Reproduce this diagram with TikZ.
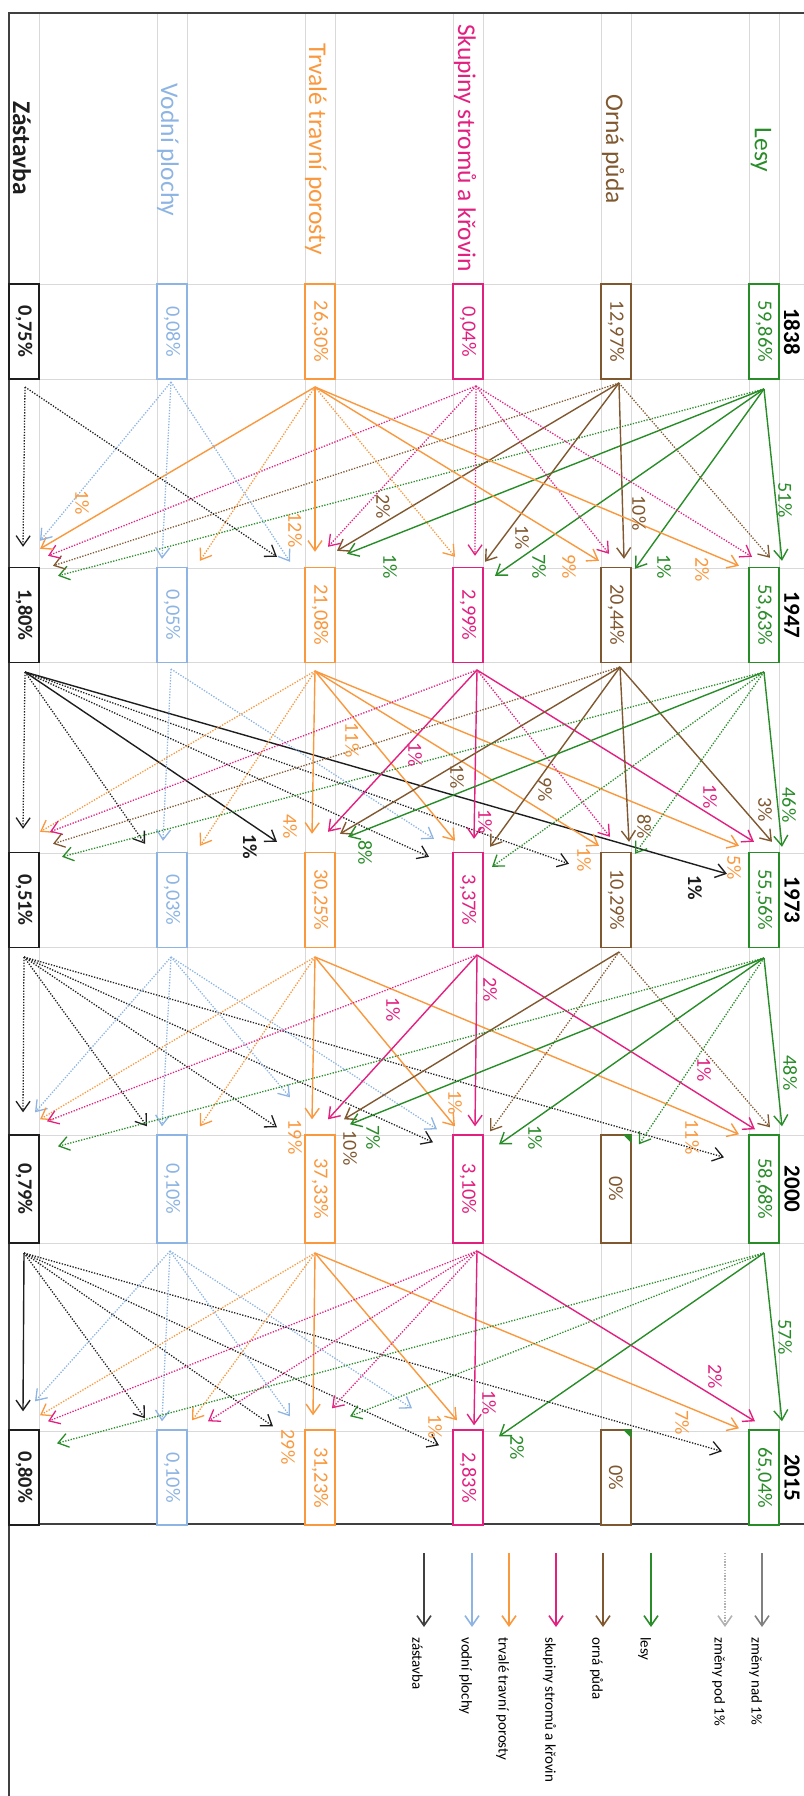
\documentclass[tikz,border=0pt]{standalone}
\usepackage{fontspec}
\setmainfont{Carlito}
\usepackage{graphicx}
\usetikzlibrary{arrows.meta}

\definecolor{lesc}{RGB}{40,140,40}
\definecolor{ornc}{RGB}{128,88,48}
\definecolor{skuc}{RGB}{226,32,128}
\definecolor{trvc}{RGB}{250,152,62}
\definecolor{vodc}{RGB}{141,180,226}
\definecolor{zasc}{RGB}{30,30,30}
\definecolor{gridc}{RGB}{217,217,217}
\definecolor{framec}{RGB}{64,64,64}

\begin{document}
\begin{tikzpicture}[x = 0.5pt, y = -0.5pt, > = {Straight Barb[length = 5pt, width = 7pt]},
	box/.style = {rectangle, draw, fill = white, line width = 0.7pt, minimum width = 15pt, minimum height = 47.5pt, inner sep = 0pt, font = \fontsize{10.2}{12}\selectfont},
	les/.style = {box, draw = lesc, text = lesc},
	orn/.style = {box, draw = ornc, text = ornc},
	sku/.style = {box, draw = skuc, text = skuc},
	trv/.style = {box, draw = trvc, text = trvc},
	vod/.style = {box, draw = vodc, text = vodc},
	zas/.style = {box, draw = zasc, text = zasc, font = \bfseries\fontsize{10.2}{12}\selectfont},
	head/.style = {rotate = -90, inner sep = 0pt, font = \fontsize{12.75}{15}\selectfont},
	year/.style = {rotate = -90, inner sep = 0pt, font = \bfseries\fontsize{11.5}{14}\selectfont},
	lbl/.style = {rotate = -90, inner sep = 0pt, font = \fontsize{10}{12}\selectfont},
	lblb/.style = {lbl, font = \bfseries\fontsize{10}{12}\selectfont},
	legtext/.style = {rotate = -90, anchor = west, inner sep = 0pt, font = \fontsize{7.5}{9}\selectfont},
	nad/.style = {->, line width = 0.7pt},
	pod/.style = {->, line width = 0.65pt, dash pattern = on 0.65pt off 0.75pt},
	gridline/.style = {gridc, line width = 0.5pt}]

	\useasboundingbox (0, 0) rectangle (804, 1796);

	% Table grid and frame

	\draw[gridline] (39, 13) -- (39, 1524) (157, 13) -- (157, 1524) (187, 13) -- (187, 1524)
		(305, 13) -- (305, 1524) (335, 13) -- (335, 1524) (453, 13) -- (453, 1524)
		(483, 13) -- (483, 1524) (601, 13) -- (601, 1524) (631, 13) -- (631, 1524)
		(749, 13) -- (749, 1524) (779, 13) -- (779, 1524);
	\draw[gridline] (9, 284) -- (804, 284) (9, 379) -- (804, 379) (9, 568) -- (804, 568)
		(9, 662) -- (804, 662) (9, 853) -- (804, 853) (9, 947) -- (804, 947)
		(9, 1135) -- (804, 1135) (9, 1243) -- (804, 1243) (9, 1431) -- (804, 1431);
	\draw[framec, line width = 1pt] (804, 13) -- (9, 13) -- (9, 1796);
	\draw[framec, line width = 1pt] (9, 1524) -- (804, 1524);

	% Category headings

	\node[head, zasc, font = \bfseries\fontsize{12.75}{15}\selectfont] (hzas) at (22, 148) {Zástavba};
	\node[head, vodc] (hvod) at (168, 150) {Vodní plochy};
	\node[head, trvc] (htrv) at (316, 149) {Trvalé travní porosty};
	\node[head, skuc] (hsku) at (465, 148) {Skupiny stromů a křovin};
	\node[head, ornc] (horn) at (613, 149) {Orná půda};
	\node[head, lesc] (hles) at (761, 150) {Lesy};

	% Years

	\node[year] (y38) at (792, 331.5) {1838};
	\node[year] (y47) at (792, 615) {1947};
	\node[year] (y73) at (792, 900) {1973};
	\node[year] (y00) at (792, 1189) {2000};
	\node[year] (y15) at (792, 1477.5) {2015};

	% Arrow starts

	\coordinate (zas38o) at (25, 387);
	\coordinate (vod38o) at (171, 382);
	\coordinate (trv38o) at (315, 387);
	\coordinate (sku38o) at (476, 386);
	\coordinate (orn38o) at (619, 383);
	\coordinate (les38o) at (764, 389);

	\coordinate (zas47o) at (25, 672);
	\coordinate (vod47o) at (171, 669);
	\coordinate (trv47o) at (315, 671);
	\coordinate (sku47o) at (477, 670);
	\coordinate (orn47o) at (620, 667);
	\coordinate (les47o) at (764, 672);

	\coordinate (zas73o) at (24, 957);
	\coordinate (vod73o) at (171, 957);
	\coordinate (trv73o) at (315, 957);
	\coordinate (sku73o) at (477, 955);
	\coordinate (orn73o) at (619, 952);
	\coordinate (les73o) at (764, 958);

	\coordinate (zas00o) at (24, 1253);
	\coordinate (vod00o) at (170, 1251);
	\coordinate (trv00o) at (315, 1253);
	\coordinate (sku00o) at (477, 1251);
	\coordinate (les00o) at (764, 1253);

	% Boxes

	\node[zas] (zas38) at (24, 331.5) {\rotatebox{-90}{0,75\%}};
	\node[vod] (vod38) at (172, 331.5) {\rotatebox{-90}{0,08\%}};
	\node[trv] (trv38) at (320, 331.5) {\rotatebox{-90}{26,30\%}};
	\node[sku] (sku38) at (468, 331.5) {\rotatebox{-90}{0,04\%}};
	\node[orn] (orn38) at (616, 331.5) {\rotatebox{-90}{12,97\%}};
	\node[les] (les38) at (764, 331.5) {\rotatebox{-90}{59,86\%}};

	\node[zas] (zas47) at (24, 615) {\rotatebox{-90}{1,80\%}};
	\node[vod] (vod47) at (172, 615) {\rotatebox{-90}{0,05\%}};
	\node[trv] (trv47) at (320, 615) {\rotatebox{-90}{21,08\%}};
	\node[sku] (sku47) at (468, 615) {\rotatebox{-90}{2,99\%}};
	\node[orn] (orn47) at (616, 615) {\rotatebox{-90}{20,44\%}};
	\node[les] (les47) at (764, 615) {\rotatebox{-90}{53,63\%}};

	\node[zas] (zas73) at (24, 900) {\rotatebox{-90}{0,51\%}};
	\node[vod] (vod73) at (172, 900) {\rotatebox{-90}{0,03\%}};
	\node[trv] (trv73) at (320, 900) {\rotatebox{-90}{30,25\%}};
	\node[sku] (sku73) at (468, 900) {\rotatebox{-90}{3,37\%}};
	\node[orn] (orn73) at (616, 900) {\rotatebox{-90}{10,29\%}};
	\node[les] (les73) at (764, 900) {\rotatebox{-90}{55,56\%}};

	\node[zas, minimum height = 54pt] (zas00) at (24, 1189) {\rotatebox{-90}{0,79\%}};
	\node[vod, minimum height = 54pt] (vod00) at (172, 1189) {\rotatebox{-90}{0,10\%}};
	\node[trv, minimum height = 54pt] (trv00) at (320, 1189) {\rotatebox{-90}{37,33\%}};
	\node[sku, minimum height = 54pt] (sku00) at (468, 1189) {\rotatebox{-90}{3,10\%}};
	\node[orn, minimum height = 54pt] (orn00) at (616, 1189) {\rotatebox{-90}{0\%}};
	\node[les, minimum height = 54pt] (les00) at (764, 1189) {\rotatebox{-90}{58,68\%}};

	\node[zas] (zas15) at (24, 1477.5) {\rotatebox{-90}{0,80\%}};
	\node[vod] (vod15) at (172, 1477.5) {\rotatebox{-90}{0,10\%}};
	\node[trv] (trv15) at (320, 1477.5) {\rotatebox{-90}{31,23\%}};
	\node[sku] (sku15) at (468, 1477.5) {\rotatebox{-90}{2,83\%}};
	\node[orn] (orn15) at (616, 1477.5) {\rotatebox{-90}{0\%}};
	\node[les] (les15) at (764, 1477.5) {\rotatebox{-90}{65,04\%}};

	\fill[lesc] (orn00.north east) -- ++(-9, 0) -- ++(9, 9) -- cycle;
	\fill[lesc] (orn15.north east) -- ++(-9, 0) -- ++(9, 9) -- cycle;

	% 1838 -> 1947

	\draw[nad, lesc] (les38o) -- ([shift = {(18, -6)}]les47.north);
	\draw[nad, lesc] (les38o) -- ([shift = {(19, 2)}]orn47.north);
	\draw[nad, lesc] (les38o) -- ([shift = {(27, 9)}]sku47.north);
	\draw[nad, lesc] (les38o) -- ([shift = {(27, -13)}]trv47.north);
	\draw[pod, lesc] (les38o) -- ([shift = {(34, 9)}]zas47.north);

	\draw[pod, ornc] (orn38o) -- ([shift = {(6, -9)}]les47.north);
	\draw[nad, ornc] (orn38o) -- ([shift = {(8, -8)}]orn47.north);
	\draw[nad, ornc] (orn38o) -- ([shift = {(17, -5)}]sku47.north);
	\draw[nad, ornc] (orn38o) -- ([shift = {(17, -16)}]trv47.north);
	\draw[pod, ornc] (orn38o) -- ([shift = {(29, -1)}]zas47.north);

	\draw[pod, skuc] (sku38o) -- ([shift = {(-12, -10)}]les47.north);
	\draw[pod, skuc] (sku38o) -- ([shift = {(-7, -13)}]orn47.north);
	\draw[pod, skuc] (sku38o) -- ([shift = {(7, -11)}]sku47.north);
	\draw[pod, skuc] (sku38o) -- ([shift = {(8, -20)}]trv47.north);
	\draw[pod, skuc] (sku38o) -- ([shift = {(24, -11)}]zas47.north);

	\draw[nad, trvc] (trv38o) -- ([shift = {(-25, -1)}]les47.north);
	\draw[nad, trvc] (trv38o) -- ([shift = {(-17, -6)}]orn47.north);
	\draw[pod, trvc] (trv38o) -- ([shift = {(-13, -10)}]sku47.north);
	\draw[nad, trvc] (trv38o) -- ([shift = {(-5, -15)}]trv47.north);
	\draw[pod, trvc] (trv38o) -- ([shift = {(28, -6)}]vod47.north);
	\draw[nad, trvc] (trv38o) -- ([shift = {(16, -18)}]zas47.north);

	\draw[pod, vodc] (vod38o) -- ([shift = {(-30, -5)}]trv47.north);
	\draw[pod, vodc] (vod38o) -- ([shift = {(-10, -8)}]vod47.north);
	\draw[pod, vodc] (vod38o) -- ([shift = {(16, -26)}]zas47.north);

	\draw[pod, zasc] (zas38o) -- ([shift = {(-43, -10)}]trv47.north);
	\draw[pod, zasc] (zas38o) -- ([shift = {(-1, -20)}]zas47.north);

	% 1947 -> 1973

	\draw[pod, zasc] (zas47o) -- ([shift = {(-1, -23)}]zas73.north);
	\draw[pod, zasc] (zas47o) -- ([shift = {(-27, -8)}]vod73.north);
	\draw[nad, zasc] (zas47o) -- ([shift = {(-43, -10)}]trv73.north);
	\draw[pod, zasc] (zas47o) -- ([shift = {(-39, 5)}]sku73.north);
	\draw[pod, zasc] (zas47o) -- ([shift = {(-47, 12)}]orn73.north);
	\draw[nad, zasc] (zas47o) -- ([shift = {(-37, 22)}]les73.north);

	\draw[pod, vodc] (vod47o) -- ([shift = {(-9, -11)}]vod73.north);
	\draw[pod, vodc] (vod47o) -- ([shift = {(-34, -13)}]sku73.north);

	\draw[pod, trvc] (trv47o) -- ([shift = {(16, -20)}]zas73.north);
	\draw[pod, trvc] (trv47o) -- ([shift = {(28, -6)}]vod73.north);
	\draw[nad, trvc] (trv47o) -- ([shift = {(-8, -18)}]trv73.north);
	\draw[nad, trvc] (trv47o) -- ([shift = {(-13, -11)}]sku73.north);
	\draw[nad, trvc] (trv47o) -- ([shift = {(-17, -6)}]orn73.north);
	\draw[nad, trvc] (trv47o) -- ([shift = {(-25, -6)}]les73.north);

	\draw[pod, skuc] (sku47o) -- ([shift = {(26, -20)}]zas73.north);
	\draw[nad, skuc] (sku47o) -- ([shift = {(8, -20)}]trv73.north);
	\draw[nad, skuc] (sku47o) -- ([shift = {(6, -13)}]sku73.north);
	\draw[pod, skuc] (sku47o) -- ([shift = {(-6, -15)}]orn73.north);
	\draw[nad, skuc] (sku47o) -- ([shift = {(-10, -10)}]les73.north);

	\draw[pod, ornc] (orn47o) -- ([shift = {(29, -8)}]zas73.north);
	\draw[nad, ornc] (orn47o) -- ([shift = {(20, -18)}]trv73.north);
	\draw[nad, ornc] (orn47o) -- ([shift = {(22, -5)}]sku73.north);
	\draw[nad, ornc] (orn47o) -- ([shift = {(13, -10)}]orn73.north);
	\draw[nad, ornc] (orn47o) -- ([shift = {(8, -10)}]les73.north);

	\draw[pod, lesc] (les47o) -- ([shift = {(38, 5)}]zas73.north);
	\draw[nad, lesc] (les47o) -- ([shift = {(28, -15)}]trv73.north);
	\draw[pod, lesc] (les47o) -- ([shift = {(24, 15)}]sku73.north);
	\draw[pod, lesc] (les47o) -- ([shift = {(19, 2)}]orn73.north);
	\draw[nad, lesc] (les47o) -- ([shift = {(18, -5)}]les73.north);

	% 1973 -> 2000

	\draw[pod, zasc] (zas73o) -- ([shift = {(-1, -22)}]zas00.north);
	\draw[pod, zasc] (zas73o) -- ([shift = {(-25, -8)}]vod00.north);
	\draw[pod, zasc] (zas73o) -- ([shift = {(-43, -7)}]trv00.north);
	\draw[pod, zasc] (zas73o) -- ([shift = {(-35, 8)}]sku00.north);
	\draw[pod, zasc] (zas73o) -- ([shift = {(-40, 23)}]les00.north);

	\draw[pod, vodc] (vod73o) -- ([shift = {(11, -22)}]zas00.north);
	\draw[pod, vodc] (vod73o) -- ([shift = {(-10, -8)}]vod00.north);
	\draw[pod, vodc] (vod73o) -- ([shift = {(-30, -37)}]trv00.north);
	\draw[pod, vodc] (vod73o) -- ([shift = {(-31, -5)}]sku00.north);

	\draw[pod, trvc] (trv73o) -- ([shift = {(16, -15)}]zas00.north);
	\draw[pod, trvc] (trv73o) -- ([shift = {(28, -8)}]vod00.north);
	\draw[nad, trvc] (trv73o) -- ([shift = {(-8, -15)}]trv00.north);
	\draw[nad, trvc] (trv73o) -- ([shift = {(-13, -8)}]sku00.north);
	\draw[nad, trvc] (trv73o) -- ([shift = {(-25, 0)}]les00.north);

	\draw[pod, skuc] (sku73o) -- ([shift = {(23, -13)}]zas00.north);
	\draw[nad, skuc] (sku73o) -- ([shift = {(8, -15)}]trv00.north);
	\draw[nad, skuc] (sku73o) -- ([shift = {(7, -8)}]sku00.north);
	\draw[nad, skuc] (sku73o) -- ([shift = {(-9, -5)}]les00.north);

	\draw[nad, ornc] (orn73o) -- ([shift = {(24, -15)}]trv00.north);
	\draw[pod, ornc] (orn73o) -- ([shift = {(22, -3)}]sku00.north);
	\draw[pod, ornc] (orn73o) -- ([shift = {(6, -7)}]les00.north);

	\draw[pod, lesc] (les73o) -- ([shift = {(34, 12)}]zas00.north);
	\draw[nad, lesc] (les73o) -- ([shift = {(30, -10)}]trv00.north);
	\draw[nad, lesc] (les73o) -- ([shift = {(31, 10)}]sku00.north);
	\draw[pod, lesc] (les73o) -- ([shift = {(23, 10)}]orn00.north);
	\draw[nad, lesc] (les73o) -- ([shift = {(18, -8)}]les00.north);

	% 2000 -> 2015

	\draw[nad, zasc] (zas00o) -- ([shift = {(-1, -18)}]zas15.north);
	\draw[pod, zasc] (zas00o) -- ([shift = {(-27, -11)}]vod15.north);
	\draw[pod, zasc] (zas00o) -- ([shift = {(-47, -3)}]trv15.north);
	\draw[pod, zasc] (zas00o) -- ([shift = {(-29, 16)}]sku15.north);
	\draw[pod, zasc] (zas00o) -- ([shift = {(-42, 22)}]les15.north);

	\draw[pod, vodc] (vod00o) -- ([shift = {(11, -28)}]zas15.north);
	\draw[pod, vodc] (vod00o) -- ([shift = {(-10, -8)}]vod15.north);
	\draw[pod, vodc] (vod00o) -- ([shift = {(-30, -13)}]trv15.north);
	\draw[pod, vodc] (vod00o) -- ([shift = {(-56, -21)}]sku15.north);

	\draw[pod, trvc] (trv00o) -- ([shift = {(16, -14)}]zas15.north);
	\draw[pod, trvc] (trv00o) -- ([shift = {(20, -9)}]vod15.north);
	\draw[nad, trvc] (trv00o) -- ([shift = {(-7, -14)}]trv15.north);
	\draw[nad, trvc] (trv00o) -- ([shift = {(-11, -9)}]sku15.north);
	\draw[nad, trvc] (trv00o) -- ([shift = {(-25, -1)}]les15.north);

	\draw[pod, skuc] (sku00o) -- ([shift = {(24, -8)}]zas15.north);
	\draw[pod, skuc] (sku00o) -- ([shift = {(36, -8)}]vod15.north);
	\draw[pod, skuc] (sku00o) -- ([shift = {(12, -21)}]trv15.north);
	\draw[nad, skuc] (sku00o) -- ([shift = {(6, -4)}]sku15.north);
	\draw[nad, skuc] (sku00o) -- ([shift = {(-9, -8)}]les15.north);

	\draw[pod, lesc] (les00o) -- ([shift = {(33, 14)}]zas15.north);
	\draw[pod, lesc] (les00o) -- ([shift = {(30, -13)}]trv15.north);
	\draw[nad, lesc] (les00o) -- ([shift = {(31, 7)}]sku15.north);
	\draw[nad, lesc] (les00o) -- ([shift = {(18, -8)}]les15.north);

	% Shares of the changes

	\node[lbl, trvc] (pa1) at (82, 503) {1\%};
	\node[lbl, trvc] (pa2) at (295, 530) {12\%};
	\node[lbl, ornc] (pa3) at (383, 507) {2\%};
	\node[lbl, lesc] (pa4) at (390, 567) {1\%};
	\node[lbl, ornc] (pa5) at (522, 538) {1\%};
	\node[lbl, lesc] (pa6) at (539, 567) {7\%};
	\node[lbl, trvc] (pa7) at (569, 567) {9\%};
	\node[lbl, ornc] (pa8) at (639, 513) {10\%};
	\node[lbl, lesc] (pa9) at (664, 567) {1\%};
	\node[lbl, trvc] (pa10) at (702, 570) {2\%};
	\node[lbl, lesc] (pa11) at (785, 500) {51\%};

	\node[lblb, zasc] (pb1) at (250, 847) {1\%};
	\node[lbl, trvc] (pb2) at (290, 827) {4\%};
	\node[lbl, trvc] (pb3) at (352, 740) {11\%};
	\node[lbl, lesc] (pb4) at (365, 853) {8\%};
	\node[lbl, skuc] (pb5) at (415, 755) {1\%};
	\node[lbl, ornc] (pb6) at (457, 777) {1\%};
	\node[lbl, skuc] (pb7) at (485, 822) {1\%};
	\node[lbl, ornc] (pb8) at (545, 790) {9\%};
	\node[lbl, trvc] (pb9) at (584, 860) {1\%};
	\node[lbl, ornc] (pb10) at (644, 827) {8\%};
	\node[lbl, skuc] (pb11) at (710, 797) {1\%};
	\node[lbl, ornc] (pb12) at (765, 810) {3\%};
	\node[lbl, lesc] (pb13) at (789, 805) {46\%};
	\node[lbl, trvc] (pb14) at (734, 868) {5\%};
	\node[lblb, zasc] (pb15) at (695, 888) {1\%};

	\node[lbl, trvc] (pc1) at (295, 1137) {19\%};
	\node[lbl, ornc] (pc2) at (350, 1148) {10\%};
	\node[lbl, lesc] (pc3) at (373, 1138) {7\%};
	\node[lbl, skuc] (pc4) at (393, 1010) {1\%};
	\node[lbl, skuc] (pc5) at (490, 990) {2\%};
	\node[lbl, trvc] (pc6) at (455, 1103) {1\%};
	\node[lbl, lesc] (pc7) at (535, 1138) {1\%};
	\node[lbl, skuc] (pc8) at (704, 1070) {1\%};
	\node[lbl, trvc] (pc9) at (692, 1137) {11\%};
	\node[lbl, lesc] (pc10) at (790, 1073) {48\%};

	\node[lbl, trvc] (pd1) at (288, 1447) {29\%};
	\node[lbl, trvc] (pd2) at (435, 1427) {1\%};
	\node[lbl, skuc] (pd3) at (489, 1403) {1\%};
	\node[lbl, lesc] (pd4) at (517, 1448) {2\%};
	\node[lbl, trvc] (pd5) at (682, 1423) {7\%};
	\node[lbl, skuc] (pd6) at (715, 1377) {2\%};
	\node[lbl, lesc] (pd7) at (785, 1337) {57\%};

	% Legend

	\node[legtext] (lzas) at (417.5, 1637) {zástavba};
	\node[legtext] (lvod) at (465.5, 1637) {vodní plochy};
	\node[legtext] (ltrv) at (502.5, 1637) {trvalé travní porosty};
	\node[legtext] (lsku) at (549.5, 1637) {skupiny stromů a křovin};
	\node[legtext] (lorn) at (596.5, 1637) {orná půda};
	\node[legtext] (lles) at (644.5, 1637) {lesy};
	\node[legtext] (lpod) at (718.5, 1637) {změny pod 1\%};
	\node[legtext] (lnad) at (755.5, 1637) {změny nad 1\%};

	\begin{scope}[->, line width = 0.8pt]
		\draw[framec] ([xshift = 3.25pt, yshift = 42pt]lzas.west) -- ([xshift = 3.25pt, yshift = 5pt]lzas.west);
		\draw[vodc] ([xshift = 3.25pt, yshift = 42pt]lvod.west) -- ([xshift = 3.25pt, yshift = 5pt]lvod.west);
		\draw[trvc] ([xshift = 3.25pt, yshift = 42pt]ltrv.west) -- ([xshift = 3.25pt, yshift = 5pt]ltrv.west);
		\draw[skuc] ([xshift = 3.25pt, yshift = 42pt]lsku.west) -- ([xshift = 3.25pt, yshift = 5pt]lsku.west);
		\draw[ornc] ([xshift = 3.25pt, yshift = 42pt]lorn.west) -- ([xshift = 3.25pt, yshift = 5pt]lorn.west);
		\draw[lesc] ([xshift = 3.25pt, yshift = 42pt]lles.west) -- ([xshift = 3.25pt, yshift = 5pt]lles.west);
		\draw[gray!60, dash pattern = on 0.65pt off 0.75pt] ([xshift = 3.25pt, yshift = 42pt]lpod.west) -- ([xshift = 3.25pt, yshift = 5pt]lpod.west);
		\draw[gray] ([xshift = 3.25pt, yshift = 42pt]lnad.west) -- ([xshift = 3.25pt, yshift = 5pt]lnad.west);
	\end{scope}

\end{tikzpicture}
\end{document}
